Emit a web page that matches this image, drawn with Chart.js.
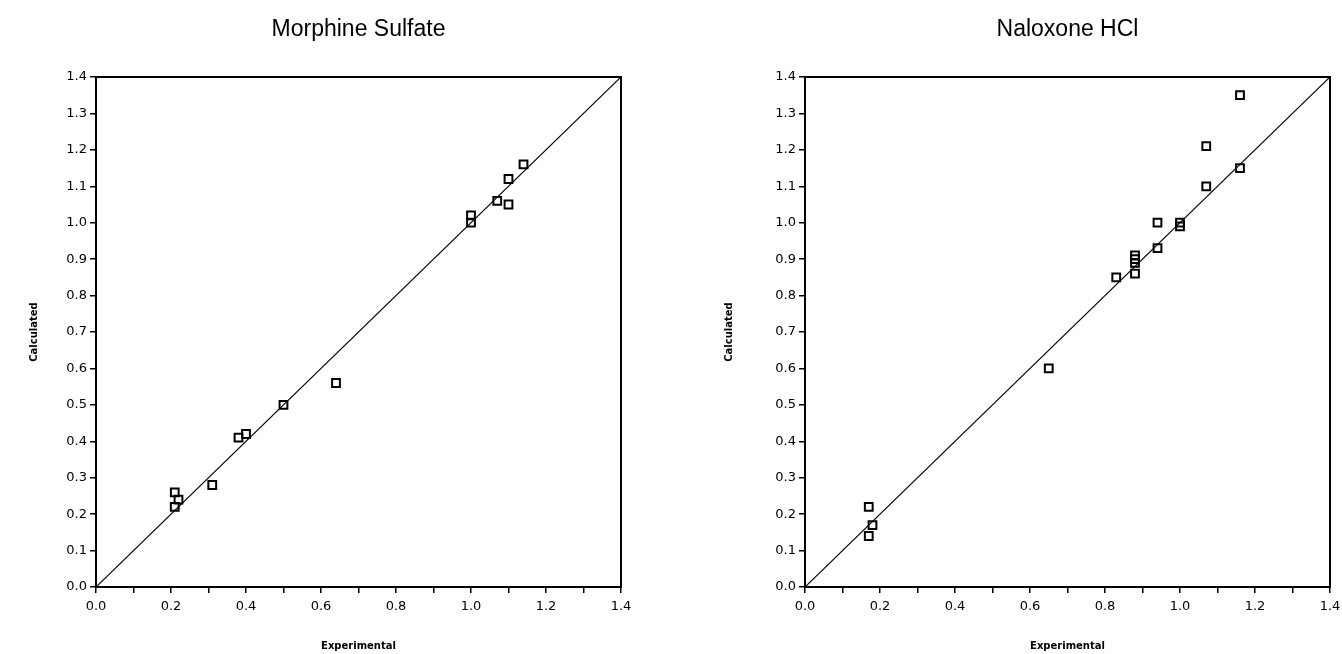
<!DOCTYPE html>
<html>
<head>
<meta charset="utf-8">
<script src="https://cdn.jsdelivr.net/npm/chart.js@4.4.0/dist/chart.umd.min.js"></script>
<style>
  body { margin: 0; background: #fff; }
  .panel { position: absolute; top: 0; width: 671px; height: 654px; }
</style>
</head>
<body>
<div class="panel" style="left:0"><canvas id="morphineChart"></canvas></div>
<div class="panel" style="left:671px"><canvas id="naloxoneChart"></canvas></div>
<script>
// Morphine Sulfate: experimental vs calculated
const morphineExp  = [0.21, 0.21, 0.22, 0.31, 0.38, 0.40, 0.50, 0.64, 1.00, 1.00, 1.07, 1.10, 1.10, 1.14];
const morphineCalc = [0.26, 0.22, 0.24, 0.28, 0.41, 0.42, 0.50, 0.56, 1.02, 1.00, 1.06, 1.12, 1.05, 1.16];

// Naloxone HCl: experimental vs calculated
const naloxoneExp  = [0.17, 0.17, 0.18, 0.65, 0.83, 0.88, 0.88, 0.88, 0.88, 0.94, 0.94, 1.00, 1.00, 1.07, 1.07, 1.16, 1.16];
const naloxoneCalc = [0.22, 0.14, 0.17, 0.60, 0.85, 0.91, 0.90, 0.89, 0.86, 1.00, 0.93, 1.00, 0.99, 1.21, 1.10, 1.35, 1.15];

// line of identity and axis range
const identityLine = [0, 1.4];
const axisMin = 0;
const axisMax = 1.4;

const tickFont = { family: 'DejaVu Sans', size: 13 };
const axisTitleFont = { family: 'DejaVu Sans', size: 10, weight: 'bold' };

// box round the plot area
const framePlugin = {
    id: 'frame',
    afterDraw(chart) {
        const a = chart.chartArea;
        const ctx = chart.ctx;
        ctx.save();
        ctx.strokeStyle = '#000';
        ctx.lineWidth = 2;
        ctx.strokeRect(a.left, a.top, a.right - a.left, a.bottom - a.top);
        ctx.restore();
    }
};

// title centred over the plot area, not the canvas
const plotTitlePlugin = {
    id: 'plotTitle',
    afterDraw(chart, args, opts) {
        const a = chart.chartArea;
        const ctx = chart.ctx;
        ctx.save();
        ctx.fillStyle = '#000';
        ctx.font = '23px "Liberation Sans"';
        ctx.textAlign = 'center';
        ctx.textBaseline = 'middle';
        ctx.fillText(opts.text, (a.left + a.right) / 2, 30);
        ctx.restore();
    }
};

function makeChart(id, title, xs, ys, pad, yWidth) {
    const points = xs.map((x, i) => ({ x: x, y: ys[i] }));
    const line = identityLine.map(v => ({ x: v, y: v }));
    return new Chart(document.getElementById(id), {
        type: 'scatter',
        data: {
            datasets: [{
                data: points,
                pointStyle: 'rect',
                pointRadius: 5.5,
                pointHoverRadius: 5.5,
                backgroundColor: 'rgba(0,0,0,0)',
                borderColor: '#000',
                borderWidth: 2
            }, {
                type: 'line',
                data: line,
                borderColor: '#000',
                borderWidth: 1.2,
                pointRadius: 0,
                fill: false
            }]
        },
        options: {
            responsive: true,
            maintainAspectRatio: false,
            animation: false,
            layout: { padding: pad },
            plugins: {
                legend: { display: false },
                tooltip: { enabled: false },
                title: { display: false },
                plotTitle: { text: title }
            },
            scales: {
                x: {
                    type: 'linear',
                    min: axisMin,
                    max: axisMax,
                    afterFit: s => { s.height = 65; s.paddingRight = 0; },
                    border: { display: true, color: '#000', width: 2 },
                    grid: { drawOnChartArea: false, drawTicks: true, tickLength: 6, color: '#000', lineWidth: 1.5 },
                    ticks: {
                        stepSize: 0.1,
                        autoSkip: false,
                        maxRotation: 0,
                        color: '#000',
                        font: tickFont,
                        padding: 6,
                        callback: (v, i) => i % 2 === 0 ? v.toFixed(1) : ''
                    },
                    title: { display: true, text: 'Experimental', color: '#000', font: axisTitleFont, padding: { top: 0, bottom: 0 } }
                },
                y: {
                    type: 'linear',
                    min: axisMin,
                    max: axisMax,
                    afterFit: s => { s.width = yWidth; },
                    border: { display: true, color: '#000', width: 2 },
                    grid: { drawOnChartArea: false, drawTicks: true, tickLength: 6, color: '#000', lineWidth: 1.5 },
                    ticks: {
                        stepSize: 0.1,
                        autoSkip: false,
                        color: '#000',
                        font: tickFont,
                        padding: 3,
                        callback: v => v.toFixed(1)
                    },
                    title: { display: true, text: 'Calculated', color: '#000', font: axisTitleFont, padding: { top: 0, bottom: 0 } }
                }
            }
        },
        plugins: [framePlugin, plotTitlePlugin]
    });
}

makeChart('morphineChart', 'Morphine Sulfate', morphineExp, morphineCalc,
    { left: 28, right: 50, top: 77, bottom: 2 }, 68);
makeChart('naloxoneChart', 'Naloxone HCl', naloxoneExp, naloxoneCalc,
    { left: 52, right: 12, top: 77, bottom: 2 }, 82);
</script>
</body>
</html>
